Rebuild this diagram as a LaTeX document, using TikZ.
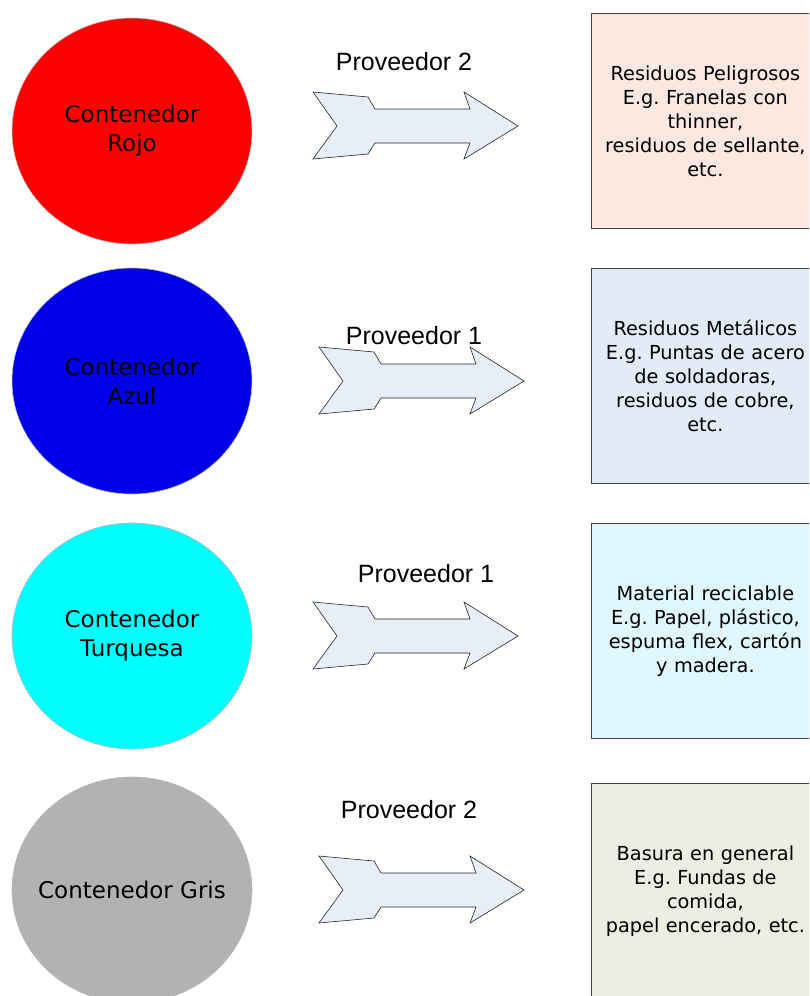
\documentclass[tikz,border=0pt]{standalone}
\usepackage{fontspec}
\setmainfont{Liberation Sans}
\newfontfamily\handfont{DejaVu Sans}
\usetikzlibrary{shapes.geometric}
\frenchspacing

\definecolor{binred}{HTML}{FF0000}
\definecolor{binblue}{HTML}{0000E8}
\definecolor{bincyan}{HTML}{00FFFF}
\definecolor{bingray}{HTML}{B2B2B2}
\definecolor{boxpeach}{HTML}{FBE9E1}
\definecolor{boxblue}{HTML}{E1ECF8}
\definecolor{boxcyan}{HTML}{E0F8FD}
\definecolor{boxbeige}{HTML}{EDEDE1}
\definecolor{arrowfill}{HTML}{E8EEF8}

\tikzset{
  bin/.style={ellipse, draw=gray!55, line width=0.6pt, minimum width=240pt, minimum height=226pt,
    inner sep=0pt},
  bintext/.style={inner sep=0pt, align=center, font=\handfont\fontsize{23}{29}\selectfont},
  infobox/.style={rectangle, draw=black!75, line width=0.8pt, minimum width=228pt, minimum height=215pt,
    anchor=north west, inner sep=0pt, align=center, text width=226pt,
    font=\handfont\fontsize{19.3}{24}\selectfont},
  supplier/.style={font=\fontsize{25}{28}\selectfont, inner sep=0pt},
  pics/fatarrow/.style={code={
    \draw[fill=arrowfill, draw=black!85, line width=0.6pt]
      (0,-34) -- (55,-29) -- (62,-17) -- (157,-17) -- (151,-34) -- (205,0)
      -- (151,33) -- (157,17) -- (62,17) -- (55,28) -- (0,33) -- (24,0) -- cycle;
  }}
}

\begin{document}
\begin{tikzpicture}[x=1pt,y=-1pt]
\useasboundingbox (0,0) rectangle (809,996);
\clip (0,0) rectangle (809,996);

% containers
\node[bin, fill=binred]  (rojo)     at (132,131) {};
\node[bin, fill=binblue] (azul)     at (132,381) {};
\node[bin, fill=bincyan] (turquesa) at (132,636) {};
\node[bin, fill=bingray] (gris)     at (132,890) {};
\node[bintext] (rojo-t)     at (rojo)     {Contenedor\\Rojo};
\node[bintext] (azul-t)     at (azul)     {Contenedor\\Azul};
\node[bintext] (turquesa-t) at (turquesa) {Contenedor\\Turquesa};
\node[bintext] (gris-t)     at (gris)     {Contenedor Gris};

% arrows
\pic (a1) at (313,126) {fatarrow};
\pic (a2) at (319,381) {fatarrow};
\pic (a3) at (313,636) {fatarrow};
\pic (a4) at (319,890) {fatarrow};

% supplier labels
\node[supplier] (p1) at (404,62)  {Proveedor 2};
\node[supplier] (p2) at (414,336) {Proveedor 1};
\node[supplier] (p3) at (426,574) {Proveedor 1};
\node[supplier] (p4) at (409,810) {Proveedor 2};

% description boxes
\node[infobox, fill=boxpeach] (b1) at (591,13)
  {Residuos Peligrosos\\E.g. Franelas con\\thinner,\\residuos de sellante,\\etc.};
\node[infobox, fill=boxblue] (b2) at (591,268)
  {Residuos Metálicos\\E.g. Puntas de acero\\de soldadoras,\\residuos de cobre,\\etc.};
\node[infobox, fill=boxcyan] (b3) at (591,523)
  {Material reciclable\\E.g. Papel, plástico,\\espuma flex, cartón\\y madera.};
\node[infobox, fill=boxbeige] (b4) at (591,783)
  {Basura en general\\E.g. Fundas de\\comida,\\papel encerado, etc.};
\end{tikzpicture}
\end{document}
